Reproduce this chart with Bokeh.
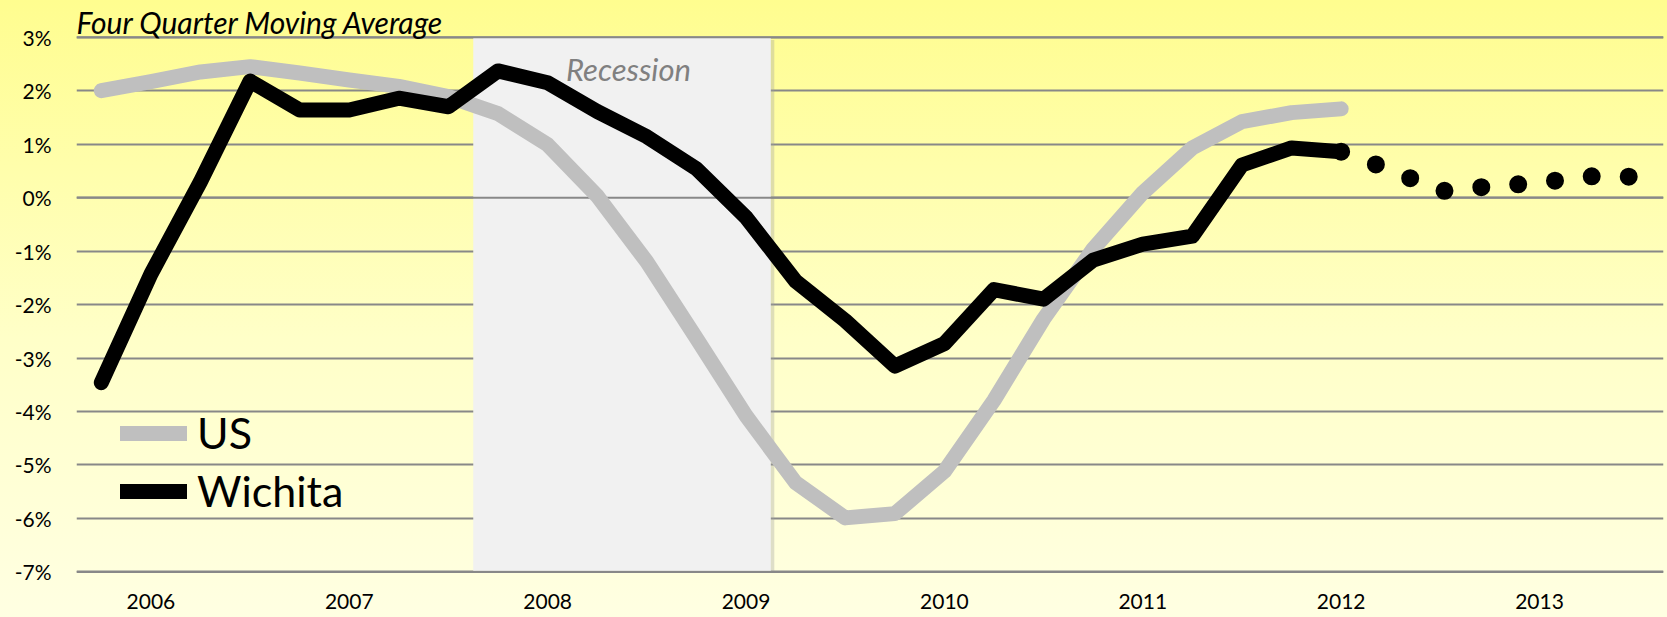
from bokeh.plotting import figure
from bokeh.models import Range1d, FixedTicker, BoxAnnotation, Span, Label, Legend, LegendItem
from bokeh.embed import file_html
from bokeh.resources import INLINE

# ---- data (quarter index 0 = 2005 Q4) ----
quarter_index = list(range(26))
us = [2.0, 2.17, 2.35, 2.45, 2.33, 2.2, 2.08, 1.89, 1.57, 0.99, 0.03, -1.2, -2.63,
      -4.08, -5.33, -5.99, -5.91, -5.12, -3.79, -2.27, -0.96, 0.09, 0.93, 1.42, 1.59, 1.66]
wichita = [-3.46, -1.43, 0.3, 2.18, 1.64, 1.64, 1.86, 1.7, 2.37, 2.15, 1.61, 1.14, 0.54,
           -0.37, -1.56, -2.3, -3.15, -2.73, -1.72, -1.9, -1.17, -0.87, -0.72, 0.61, 0.93, 0.86]
forecast_index = list(range(25, 32))
wichita_forecast = [0.86, 0.52, 0.12, 0.21, 0.28, 0.40, 0.39]
year_tick_positions = [1, 5, 9, 13, 17, 21, 25, 29]
year_labels = ["2006", "2007", "2008", "2009", "2010", "2011", "2012", "2013"]
y_ticks = [-7, -6, -5, -4, -3, -2, -1, 0, 1, 2, 3]
y_tick_labels = ["-7%", "-6%", "-5%", "-4%", "-3%", "-2%", "-1%", "0%", "1%", "2%", "3%"]
recession_start, recession_end = 7.5, 13.5

FONT = "Lato"
GRID = "#888888"

p = figure(width=1667, height=617, output_backend="svg", toolbar_location=None,
           x_range=Range1d(-0.5, 31.5), y_range=Range1d(-7.03, 3.687),
           min_border_left=76, min_border_right=4, min_border_top=0, min_border_bottom=44)
p.background_fill_alpha = 0
p.border_fill_alpha = 0
p.outline_line_color = None
p.styles = {"background": "linear-gradient(to bottom, #FFFD8F 0%, #FFFFC8 55%, #FFFFE2 100%)"}

# axes
p.xaxis.ticker = FixedTicker(ticks=year_tick_positions)
p.xaxis.major_label_overrides = {t: l for t, l in zip(year_tick_positions, year_labels)}
p.yaxis.ticker = FixedTicker(ticks=y_ticks)
p.yaxis.major_label_overrides = {t: l for t, l in zip(y_ticks, y_tick_labels)}
for ax in (p.xaxis, p.yaxis):
    ax.axis_line_color = None
    ax.major_tick_line_color = None
    ax.minor_tick_line_color = None
    ax.major_tick_out = 0
    ax.major_tick_in = 0
    ax.major_label_text_font = FONT
    ax.major_label_text_font_size = "21px"
    ax.major_label_text_color = "black"
    ax.major_label_text_line_height = 1.0
p.yaxis.major_label_standoff = 25
p.xaxis.major_label_standoff = 20

p.xgrid.grid_line_color = None
p.ygrid.ticker = FixedTicker(ticks=y_ticks)
p.ygrid.grid_line_color = GRID
p.ygrid.grid_line_width = 2

# recession shading (with a soft shadow)
shadow = BoxAnnotation(left=recession_start + 0.05, right=recession_end + 0.07, top=2.95, bottom=-7,
                       fill_color="#A0A0A0", fill_alpha=0.35, line_color=None, level="underlay")
p.add_layout(shadow)
box = BoxAnnotation(left=recession_start, right=recession_end, top=3, bottom=-6.98,
                    fill_color="#F1F1F1", fill_alpha=1, line_color=None, level="underlay")
p.add_layout(box)
for v in (3, 0, -7):
    p.add_layout(Span(location=v, dimension="width", line_color=GRID, line_width=2, level="underlay"))

p.add_layout(Label(x=10.63, y=2.40, text="Recession",
                   text_font=FONT, text_font_size="31px", text_font_style="italic",
                   text_color="#808080", text_align="center", text_baseline="middle"))

# lines
r_us = p.line(quarter_index, us, line_width=15, line_color="#BFBFBF",
              line_cap="round", line_join="round")
r_wi = p.line(quarter_index, wichita, line_width=15, line_color="black",
              line_cap="round", line_join="round")
p.line(forecast_index, wichita_forecast, line_width=18, line_color="black",
       line_cap="round", line_join="round", line_dash="0 37")

# title
p.add_layout(Label(x=-0.5, y=3.29, text="Four Quarter Moving Average",
                   text_font=FONT, text_font_size="30px", text_font_style="italic",
                   text_color="black", text_align="left", text_baseline="middle"))

legend = Legend(items=[LegendItem(label="US", renderers=[r_us]),
                       LegendItem(label="Wichita", renderers=[r_wi])],
                location=(44, 57), orientation="vertical",
                background_fill_alpha=0, border_line_color=None,
                label_text_font=FONT, label_text_font_size="43px", label_text_color="black",
                glyph_width=67, glyph_height=50, label_height=50, spacing=7,
                label_standoff=10, padding=0, margin=0)
p.add_layout(legend)

open("out.html", "w").write(file_html(p, INLINE))
